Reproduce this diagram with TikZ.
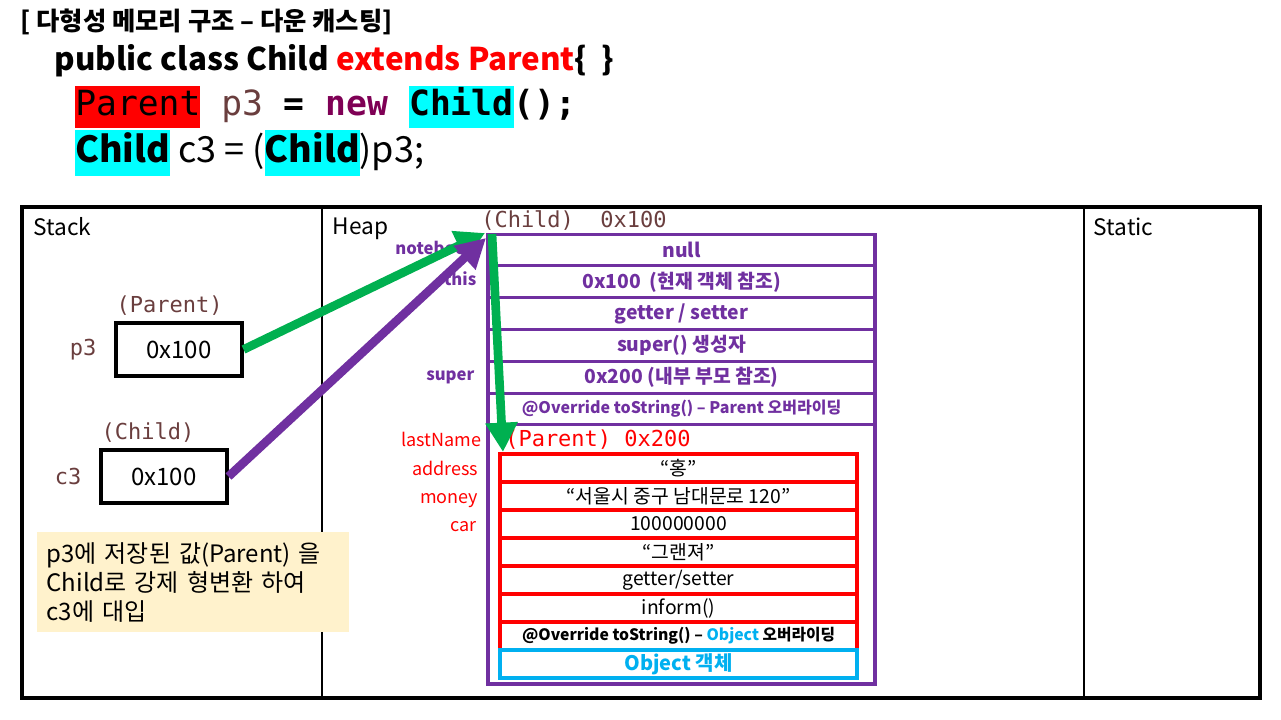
\documentclass[tikz,border=0pt]{standalone}
\usepackage{fontspec}
\setmainfont{Noto Sans CJK KR}
\setmonofont{DejaVu Sans Mono}
\usepackage{xcolor}
\usetikzlibrary{positioning,arrows.meta}
\definecolor{objpurple}{HTML}{7030A0}
\definecolor{refgreen}{HTML}{00B050}
\definecolor{objblue}{HTML}{00B0F0}
\definecolor{hlcyan}{HTML}{00FFFF}
\definecolor{varbrown}{HTML}{6A3E3E}
\definecolor{kwpurple}{HTML}{7F0055}
\definecolor{notefill}{HTML}{FFF2CC}
\newcommand{\hilite}[2]{{\setlength{\fboxsep}{0pt}\colorbox{#1}{\strut #2}}}

\begin{document}
\begin{tikzpicture}[x=0.75pt,y=-0.75pt,
    area/.style={anchor=north west,font=\fontsize{17}{20}\selectfont},
    typelbl/.style={font=\ttfamily\fontsize{16.5}{19}\selectfont,text=varbrown},
    stackbox/.style={draw,line width=2.3pt,minimum width=94.5pt,minimum height=39.75pt,
      inner sep=0pt,font=\fontsize{18}{21}\selectfont},
    objrow/.style={draw=objpurple,line width=2.3pt,minimum width=290.25pt,minimum height=23.85pt,
      inner sep=0pt,outer sep=0pt,text=objpurple,font=\fontsize{14.5}{17}\selectfont\bfseries},
    parrow/.style={draw=red,line width=2.3pt,minimum width=267.75pt,minimum height=21pt,
      inner sep=0pt,outer sep=0pt,font=\fontsize{14.5}{17}\selectfont},
    fieldlbl/.style={anchor=east,text height=10pt,text depth=3pt,font=\fontsize{13.5}{16}\selectfont},
    ref/.style={line width=6.5pt,-{Triangle[length=22pt,width=23pt]}}]
  \useasboundingbox (0,0) rectangle (1281,720);

  % code at the top
  \node[anchor=west,font=\fontsize{19}{22}\selectfont\bfseries] (title) at (16,22)
    {[ 다형성 메모리 구조 – 다운 캐스팅]};
  \node[anchor=west,font=\fontsize{23.5}{28}\selectfont\bfseries] (decl) at (50,61)
    {public class Child \textcolor{red}{extends Parent}\{ \ \}};
  \node[anchor=west,inner sep=0pt,font=\ttfamily\fontsize{26}{31}\selectfont] (line1) at (75,107)
    {\hilite{red}{Parent} \textcolor{varbrown}{p3} \textbf{=} \textcolor{kwpurple}{\textbf{new}}
     \hilite{hlcyan}{\textbf{Child}}\textbf{();}};
  \node[anchor=west,inner sep=0pt,font=\fontsize{27}{34}\selectfont] (line2) at (75,153)
    {\hilite{hlcyan}{\textbf{Child}} c3 = (\hilite{hlcyan}{\textbf{Child}})p3;};

  % memory areas
  \draw[line width=2.6pt] (22,207) rectangle (1260,698);
  \draw[line width=2.2pt] (322,207) -- (322,698) (1084,207) -- (1084,698);
  \node[area] (stack) at (29,213) {Stack};
  \node[area] (heap) at (328,213) {Heap};
  \node[area] (static) at (1089,213) {Static};

  % stack
  \node[stackbox] (p3box) at (179,349.5) {0x100};
  \node[typelbl,above=1pt of p3box,xshift=-7pt] {(Parent)};
  \node[typelbl,left=10pt of p3box] (p3) {p3};
  \node[stackbox] (c3box) at (164,476.5) {0x100};
  \node[typelbl,above=1pt of c3box,xshift=-12pt] {(Child)};
  \node[typelbl,left=10pt of c3box] (c3) {c3};
  \node[fill=notefill,minimum width=232.5pt,minimum height=75pt,anchor=north west,
    text width=220pt,align=left,inner xsep=7pt,inner ysep=5pt,
    font=\fontsize{18}{21.75}\selectfont] (note) at (37,532)
    {p3에 저장된 값(Parent) 을\\Child로 강제 형변환 하여\\c3에 대입};

  % heap: Child object
  \node[typelbl,anchor=west,inner sep=0pt] (childhdr) at (481,221) {(Child)\ \ 0x100};
  \node[objrow] (o1) at (681.5,250) {null};
  \node[objrow,below=0pt of o1] (o2) {0x100\ \ (현재 객체 참조)};
  \node[objrow,below=0pt of o2] (o3) {getter / setter};
  \node[objrow,below=0pt of o3] (o4) {super() 생성자};
  \node[objrow,below=0pt of o4] (o5) {0x200 (내부 부모 참조)};
  \node[objrow,below=0pt of o5,font=\fontsize{12}{14}\selectfont\bfseries] (o6)
    {@Override toString() – Parent 오버라이딩};
  \draw[draw=objpurple,line width=2.3pt] (o6.south west) rectangle (875,684);
  \node[fieldlbl,text=objpurple,font=\fontsize{12.5}{15}\selectfont\bfseries] at (481,250) {notebook};
  \node[fieldlbl,text=objpurple,font=\fontsize{12.5}{15}\selectfont\bfseries] at (481,281) {this};
  \node[fieldlbl,text=objpurple,font=\fontsize{12.5}{15}\selectfont\bfseries] at (479,376) {super};

  % heap: Parent object inside
  \node[typelbl,anchor=west,inner sep=0pt,text=red] (parenthdr) at (505,440) {(Parent) 0x200};
  \node[parrow] (q1) at (678.5,468) {“홍”};
  \node[parrow,below=0pt of q1] (q2) {“서울시 중구 남대문로 120”};
  \node[parrow,below=0pt of q2] (q3) {100000000};
  \node[parrow,below=0pt of q3] (q4) {“그랜져”};
  \node[parrow,below=0pt of q4] (q5) {getter/setter};
  \node[parrow,below=0pt of q5] (q6) {inform()};
  \node[parrow,below=0pt of q6,font=\fontsize{11.8}{14}\selectfont\bfseries] (q7)
    {@Override toString() – \textcolor{objblue}{Object} 오버라이딩};
  \node[parrow,below=0pt of q7,draw=objblue,text=objblue,font=\fontsize{15}{17}\selectfont\bfseries] (q8)
    {Object 객체};
  \node[fieldlbl,text=red] at (486,442) {lastName};
  \node[fieldlbl,text=red] at (483,471) {address};
  \node[fieldlbl,text=red] at (483,499) {money};
  \node[fieldlbl,text=red] at (481,527) {car};

  % references
  \coordinate (childref) at (485,233);
  \coordinate (castref) at (486,238);
  \coordinate (childtop) at (492,234);
  \coordinate (parentref) at (503,452);
  \draw[ref,refgreen] (p3box.east) -- (childref);
  \draw[ref,objpurple] (c3box.east) -- (castref);
  \draw[ref,refgreen] (childtop) -- (parentref);
\end{tikzpicture}
\end{document}
